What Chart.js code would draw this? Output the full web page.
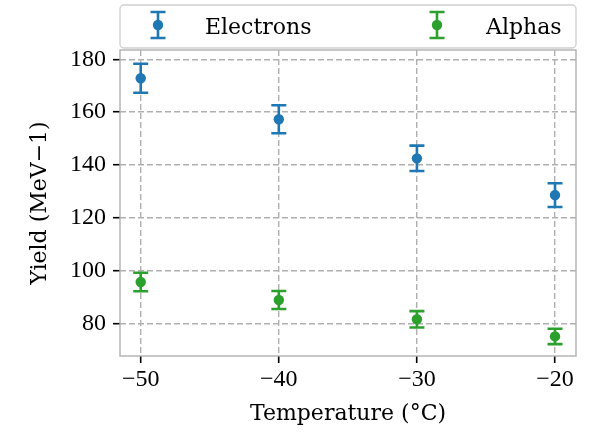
<!DOCTYPE html>
<html>
<head>
<meta charset="utf-8">
<script src="https://cdn.jsdelivr.net/npm/chart.js@4.4.1/dist/chart.umd.min.js"></script>
<style>
  html, body { margin: 0; padding: 0; background: #fff; }
  #wrap { width: 600px; height: 436px; }
</style>
</head>
<body>
<div id="wrap"><canvas id="yieldChart" width="600" height="436"></canvas></div>
<script>
// Data
var temps = [-50, -40, -30, -20];
var electrons = [172.8, 157.3, 142.5, 128.6];
var electronErr = [5.5, 5.3, 4.8, 4.5];
var alphas = [95.7, 88.9, 81.6, 75.1];
var alphaErr = [3.5, 3.4, 3.1, 2.9];
var xTicks = [-50, -40, -30, -20];
var yTicks = [80, 100, 120, 140, 160, 180];
var seriesNames = ['Electrons', 'Alphas'];

var blue = '#1f77b4';
var green = '#2ca02c';
var serif = '"Liberation Serif", serif';
var wideSerif = '"DejaVu Serif", serif';

function toPoints(ys) {
    return temps.map(function (t, i) { return { x: t, y: ys[i] }; });
}

function fmtMinus(v) {
    return String(v).replace('-', '\u2212');
}

// error bars under the markers
var errorBars = {
    id: 'errorBars',
    beforeDatasetsDraw: function (chart) {
        var ctx = chart.ctx;
        var yScale = chart.scales.y;
        chart.data.datasets.forEach(function (ds, i) {
            var meta = chart.getDatasetMeta(i);
            ctx.save();
            ctx.strokeStyle = ds.borderColor;
            ctx.lineWidth = 2.6;
            meta.data.forEach(function (pt, j) {
                var v = ds.data[j].y;
                var e = ds.errors[j];
                var top = yScale.getPixelForValue(v + e);
                var bot = yScale.getPixelForValue(v - e);
                ctx.beginPath();
                ctx.moveTo(pt.x, top); ctx.lineTo(pt.x, bot);
                ctx.moveTo(pt.x - 7.5, top); ctx.lineTo(pt.x + 7.5, top);
                ctx.moveTo(pt.x - 7.5, bot); ctx.lineTo(pt.x + 7.5, bot);
                ctx.stroke();
            });
            ctx.restore();
        });
    }
};

// frame round the plot and the legend box on top
var frameAndLegend = {
    id: 'frameAndLegend',
    afterDraw: function (chart) {
        var ctx = chart.ctx;
        var a = chart.chartArea;
        ctx.save();
        ctx.strokeStyle = '#b0b0b0';
        ctx.lineWidth = 1.4;
        ctx.strokeRect(a.left, a.top, a.right - a.left, a.bottom - a.top);

        // legend box
        var bx = a.left, by = 5, bw = a.right - a.left, bh = 43;
        ctx.fillStyle = 'rgba(255,255,255,0.9)';
        ctx.strokeStyle = '#d0d0d0';
        ctx.lineWidth = 1.4;
        ctx.beginPath();
        ctx.roundRect(bx, by, bw, bh, 4);
        ctx.fill();
        ctx.stroke();

        var items = [
            { name: seriesNames[0], color: blue, mx: 158, tx: 205 },
            { name: seriesNames[1], color: green, mx: 437, tx: 486 }
        ];
        items.forEach(function (it) {
            ctx.strokeStyle = it.color;
            ctx.fillStyle = it.color;
            ctx.lineWidth = 2.6;
            ctx.beginPath();
            ctx.moveTo(it.mx, 12); ctx.lineTo(it.mx, 38);
            ctx.moveTo(it.mx - 7.5, 12); ctx.lineTo(it.mx + 7.5, 12);
            ctx.moveTo(it.mx - 7.5, 38); ctx.lineTo(it.mx + 7.5, 38);
            ctx.stroke();
            ctx.beginPath();
            ctx.arc(it.mx, 25, 5.2, 0, Math.PI * 2);
            ctx.fill();
            ctx.fillStyle = '#000';
            ctx.font = '22px ' + wideSerif;
            ctx.textBaseline = 'alphabetic';
            ctx.textAlign = 'left';
            ctx.fillText(it.name, it.tx, 34);
        });
        ctx.restore();
    }
};

var gridOpts = {
    color: '#b0b0b0',
    lineWidth: 1.4,
    tickColor: '#000',
    tickLength: 7,
    tickWidth: 1.6,
    tickBorderDash: []
};

var ctx = document.getElementById('yieldChart').getContext('2d');

var yieldChart = new Chart(ctx, {
    type: 'scatter',
    data: {
        datasets: [{
            label: seriesNames[0],
            data: toPoints(electrons),
            errors: electronErr,
            backgroundColor: blue,
            borderColor: blue,
            pointRadius: 5.2,
            pointBorderWidth: 0
        }, {
            label: seriesNames[1],
            data: toPoints(alphas),
            errors: alphaErr,
            backgroundColor: green,
            borderColor: green,
            pointRadius: 5.2,
            pointBorderWidth: 0
        }]
    },
    options: {
        responsive: false,
        animation: false,
        layout: { padding: { top: 50, right: 24, left: 27, bottom: 0 } },
        plugins: {
            legend: { display: false },
            tooltip: { enabled: false }
        },
        scales: {
            x: {
                type: 'linear',
                min: -51.5,
                max: -18.48,
                afterBuildTicks: function (s) { s.ticks = xTicks.map(function (v) { return { value: v }; }); },
                afterFit: function (s) { s.height = 80; },
                grid: gridOpts,
                border: { display: false, dash: [6, 3] },
                ticks: {
                    color: '#000',
                    font: { family: serif, size: 24 },
                    padding: 2,
                    maxRotation: 0,
                    callback: function (v) { return fmtMinus(v); }
                },
                title: {
                    display: true,
                    text: 'Temperature (\u00b0C)',
                    color: '#000',
                    font: { family: wideSerif, size: 22 },
                    padding: { top: 0, bottom: 9 }
                }
            },
            y: {
                min: 67.7,
                max: 183.5,
                afterBuildTicks: function (s) { s.ticks = yTicks.map(function (v) { return { value: v }; }); },
                afterFit: function (s) { s.width = 93; },
                grid: gridOpts,
                border: { display: false, dash: [6, 3] },
                ticks: {
                    color: '#000',
                    font: { family: serif, size: 24 },
                    padding: 7
                },
                title: {
                    display: true,
                    text: 'Yield (MeV\u22121)',
                    color: '#000',
                    font: { family: wideSerif, size: 22 },
                    padding: { top: 0, bottom: 0 }
                }
            }
        }
    },
    plugins: [errorBars, frameAndLegend]
});
</script>
</body>
</html>
